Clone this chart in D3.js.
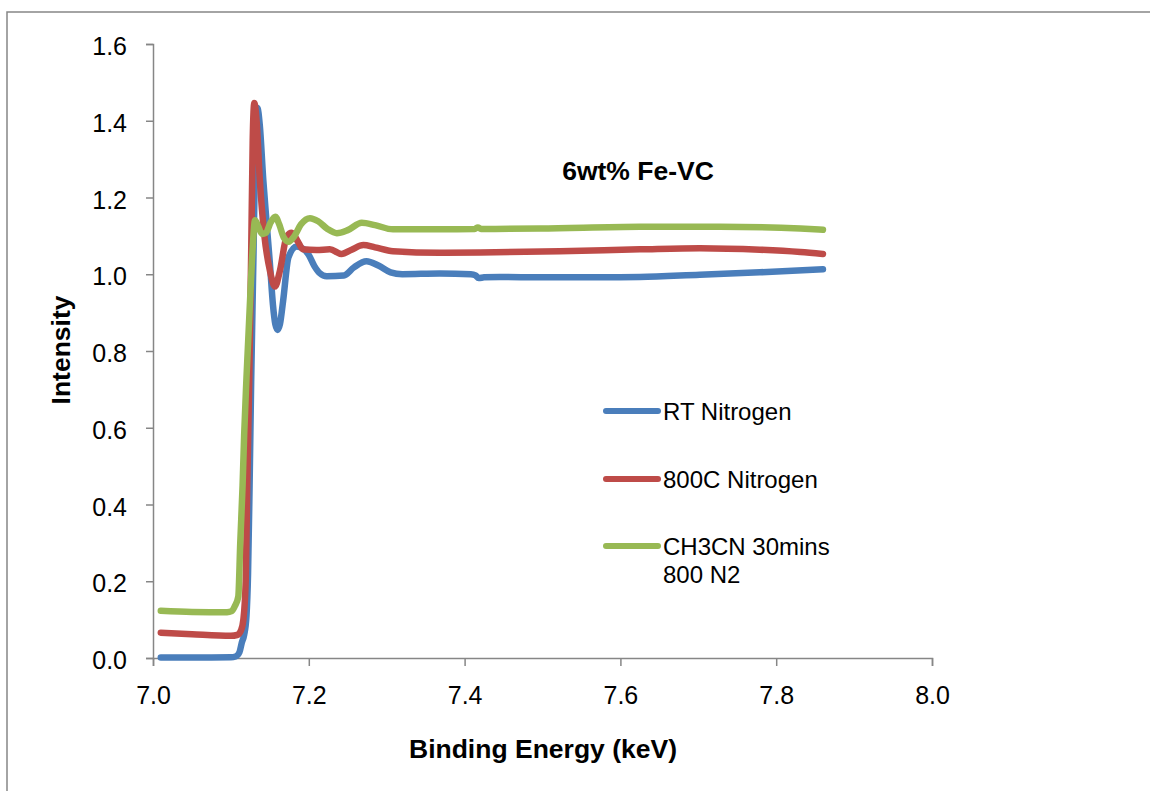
<!DOCTYPE html>
<html><head><meta charset="utf-8">
<script src="https://cdn.jsdelivr.net/npm/d3@7"></script>
<style>
body{margin:0;background:#fff;}
svg{display:block;font-family:"Liberation Sans",Arial,sans-serif;}
</style></head>
<body><svg id="c" width="1150" height="791"></svg>
<script>
// ---- data ----
const xTicks = [7.0, 7.2, 7.4, 7.6, 7.8, 8.0];
const yTicks = [0.0, 0.2, 0.4, 0.6, 0.8, 1.0, 1.2, 1.4, 1.6];
const seriesNames = ["RT Nitrogen", "800C Nitrogen", "CH3CN 30mins\n800 N2"];

const rtEnergy = [7.010,7.050,7.100,7.106,7.111,7.114,7.117,7.120,7.122,7.124,7.126,7.129,7.131,7.134,7.137,7.1416,7.146,7.150,7.154,7.157,7.160,7.163,7.167,7.174,7.1845,7.193,7.200,7.207,7.214,7.223,7.245,7.258,7.274,7.290,7.305,7.320,7.368,7.408,7.414,7.418,7.425,7.445,7.500,7.574,7.625,7.702,7.779,7.860];
const rtValue  = [0.001,0.001,0.002,0.004,0.015,0.040,0.060,0.110,0.220,0.450,0.720,1.050,1.300,1.433,1.390,1.245,1.130,1.030,0.920,0.870,0.855,0.870,0.930,1.045,1.072,1.066,1.050,1.022,1.003,0.995,0.997,1.018,1.034,1.022,1.005,1.000,1.002,1.000,0.997,0.990,0.992,0.993,0.992,0.992,0.993,0.999,1.005,1.013];

const n800Energy = [7.010,7.050,7.100,7.108,7.113,7.116,7.119,7.121,7.1235,7.126,7.128,7.130,7.133,7.137,7.143,7.150,7.1566,7.163,7.1716,7.178,7.186,7.1925,7.210,7.227,7.242,7.255,7.270,7.285,7.308,7.368,7.420,7.522,7.625,7.702,7.779,7.831,7.860];
const n800Value  = [0.066,0.062,0.058,0.060,0.072,0.100,0.200,0.450,0.724,1.050,1.350,1.446,1.400,1.250,1.100,1.010,0.968,1.010,1.098,1.108,1.085,1.065,1.063,1.065,1.053,1.064,1.076,1.070,1.060,1.056,1.057,1.060,1.065,1.068,1.064,1.058,1.053];

const ch3cnEnergy = [7.010,7.050,7.095,7.101,7.105,7.1095,7.112,7.115,7.117,7.120,7.125,7.128,7.131,7.135,7.140,7.145,7.151,7.157,7.162,7.168,7.174,7.181,7.190,7.2015,7.212,7.224,7.236,7.250,7.268,7.285,7.308,7.368,7.413,7.417,7.421,7.497,7.625,7.728,7.831,7.860];
const ch3cnValue  = [0.123,0.120,0.119,0.122,0.135,0.160,0.300,0.450,0.580,0.730,0.950,1.070,1.141,1.125,1.105,1.108,1.135,1.150,1.130,1.095,1.085,1.098,1.130,1.146,1.138,1.118,1.107,1.115,1.134,1.128,1.117,1.117,1.118,1.122,1.118,1.119,1.124,1.124,1.119,1.116];

const colors = ["#4a7ebb", "#be4b48", "#98b954"];
// ---- chart ----
const svg = d3.select("#c");
const axisColor = "#868686";
svg.append("rect").attr("x",7).attr("y",12).attr("width",1160).attr("height",800)
  .attr("fill","#fff").attr("stroke",axisColor).attr("stroke-width",1.5);

const x = d3.scaleLinear().domain([7.0, 8.0]).range([153, 932]);
const y = d3.scaleLinear().domain([0, 1.6]).range([658, 44]);

// y axis
const gy = svg.append("g").attr("transform","translate(153,0)")
  .call(d3.axisLeft(y).tickValues(yTicks).tickFormat(d3.format(".1f")).tickSize(7).tickPadding(19));
gy.select(".domain").attr("stroke",axisColor).attr("stroke-width",1.5);
gy.selectAll(".tick line").attr("stroke",axisColor).attr("stroke-width",1.5);
gy.selectAll(".tick text").attr("fill","#000").style("font-size","25px").attr("dy","0.42em")
  .style("font-family","Liberation Sans, Arial, sans-serif");

// x axis
const gx = svg.append("g").attr("transform","translate(0,658)")
  .call(d3.axisBottom(x).tickValues(xTicks).tickFormat(d3.format(".1f")).tickSize(8).tickPadding(20));
gx.select(".domain").attr("stroke",axisColor).attr("stroke-width",1.5);
gx.selectAll(".tick line").attr("stroke",axisColor).attr("stroke-width",1.5);
gx.selectAll(".tick text").attr("fill","#000").style("font-size","25px")
  .style("font-family","Liberation Sans, Arial, sans-serif");

// lines
const line = d3.line().x(d=>x(d[0])).y(d=>y(d[1])).curve(d3.curveMonotoneX);
const sets = [[rtEnergy,rtValue],[n800Energy,n800Value],[ch3cnEnergy,ch3cnValue]];
sets.forEach((s,i)=>{
  const pts = s[0].map((e,j)=>[e,s[1][j]]);
  svg.append("path").datum(pts).attr("d",line).attr("fill","none")
    .attr("stroke",colors[i]).attr("stroke-width",6.5)
    .attr("stroke-linecap","round").attr("stroke-linejoin","round");
});

// title
svg.append("text").attr("x",638).attr("y",180).attr("text-anchor","middle")
  .style("font-size","26.5px").style("font-weight","bold").text("6wt% Fe-VC");

// axis titles
svg.append("text").attr("x",543).attr("y",758).attr("text-anchor","middle")
  .style("font-size","26.5px").style("font-weight","bold").text("Binding Energy (keV)");
svg.append("text").attr("transform","translate(70,350) rotate(-90)").attr("text-anchor","middle")
  .style("font-size","26.5px").style("font-weight","bold").text("Intensity");

// legend
const legY = [411, 479, 546];
seriesNames.forEach((n,i)=>{
  svg.append("line").attr("x1",606).attr("x2",658).attr("y1",legY[i]).attr("y2",legY[i])
    .attr("stroke",colors[i]).attr("stroke-width",6).attr("stroke-linecap","round");
  const t = svg.append("text").attr("x",663).attr("y",legY[i]+9).style("font-size","24px");
  n.split("\n").forEach((part,k)=>{
    t.append("tspan").attr("x",663).attr("dy",k===0?0:28).text(part);
  });
});
</script></body></html>
